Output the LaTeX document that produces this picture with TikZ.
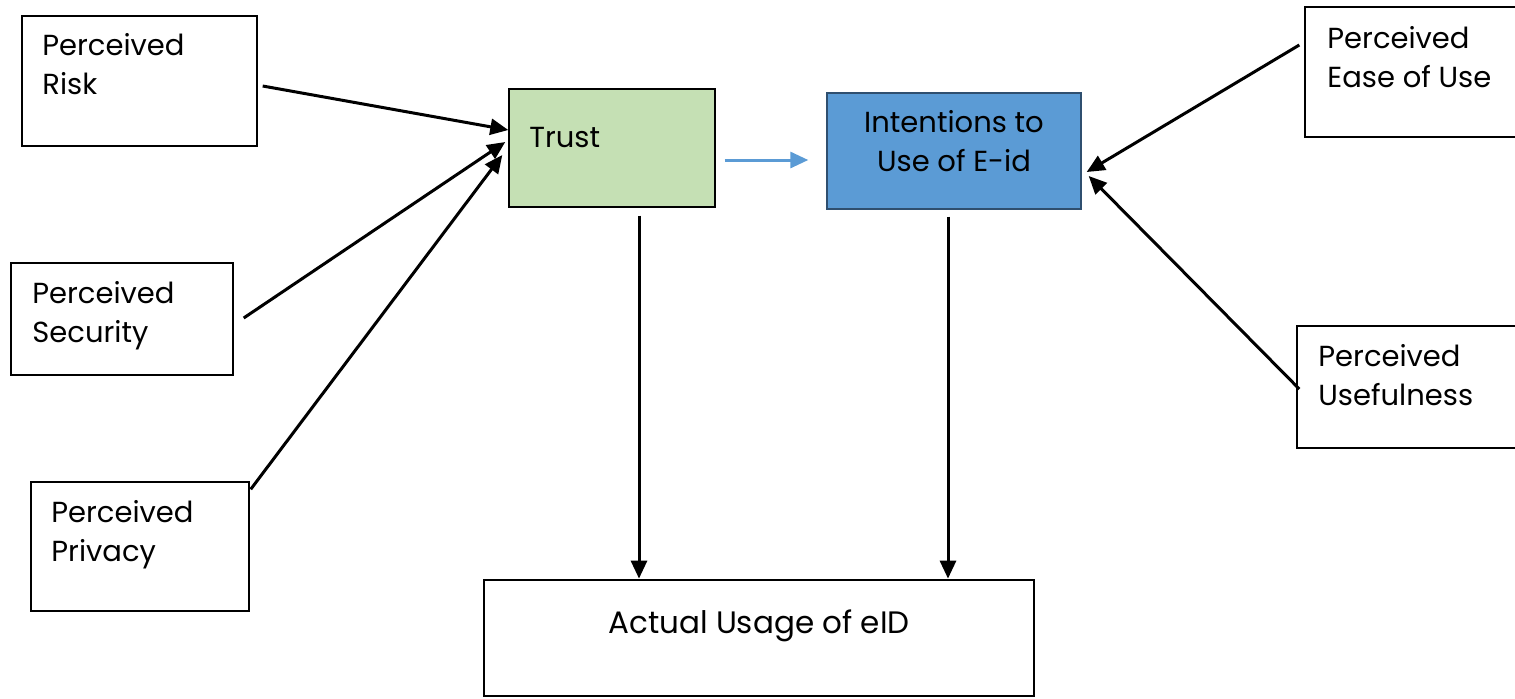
\documentclass[tikz,border=0pt]{standalone}
\usepackage{fontspec}
\setmainfont{Poppins}
\usetikzlibrary{arrows.meta,calc}
\definecolor{trustgreen}{HTML}{C5E0B4}
\definecolor{intentblue}{HTML}{5B9BD5}
\definecolor{intentedge}{HTML}{2F4F6F}
\begin{document}
\begin{tikzpicture}[x=0.5pt,y=-0.5pt,
  box/.style={draw, line width=0.7pt, inner sep=0pt},
  label/.style={inner sep=0pt, font=\fontsize{14.5}{19.5}\selectfont},
  arr/.style={line width=1.5pt, -{Triangle[length=9pt,width=8pt]}},
  bluearr/.style={line width=1.5pt, draw=intentblue, -{Triangle[length=9pt,width=8pt]}}]
\useasboundingbox (0,0) rectangle (1515,698);

% factor boxes
\node[box, minimum width=117.5pt, minimum height=65pt] (risk) at (139.5,81) {};
\node[box, minimum width=111pt, minimum height=56pt] (sec) at (122,319) {};
\node[box, minimum width=109pt, minimum height=64.5pt] (priv) at (140,546.5) {};
\node[box, minimum width=106pt, minimum height=65pt] (ease) at (1411,72) {};
\node[box, minimum width=110pt, minimum height=61pt] (useful) at (1407,387) {};

% central constructs
\node[box, fill=trustgreen, minimum width=103pt, minimum height=59pt] (trust) at (612,148) {};
\node[box, fill=intentblue, draw=intentedge, minimum width=127pt, minimum height=58pt] (intent) at (954,151) {};
\node[box, line width=1.4pt, minimum width=275pt, minimum height=58pt] (actual) at (759,638) {};

% texts
\node[label, anchor=north west, align=left] (riskt) at (42,33) {Perceived\\Risk};
\node[label, anchor=north west, align=left] (sect) at (32,281) {Perceived\\Security};
\node[label, anchor=north west, align=left] (privt) at (51,500) {Perceived\\Privacy};
\node[label, anchor=north west, align=left] (easet) at (1327,26) {Perceived\\Ease of Use};
\node[label, anchor=north west, align=left] (usefult) at (1318,344) {Perceived\\Usefulness};
\node[label, anchor=north west] (trustt) at (529,127) {Trust};
\node[label, anchor=north, align=center] (intentt) at (954,110) {Intentions to\\Use of E-id};
\node[label, anchor=north, font=\fontsize{15.5}{19.5}\selectfont] (actualt) at (759,609) {Actual Usage of eID};

% connectors
\draw[arr] ($(risk.east)+(5,5)$) -- ($(trust.west)+(0,-18)$);
\draw[arr] ($(sec.east)+(10,-1)$) -- ($(trust.west)+(-3,-6)$);
\draw[arr] ($(priv.north east)+(1,8)$) -- ($(trust.west)+(-6,7)$);
\draw[bluearr] ($(trust.east)+(9,12)$) -- ($(intent.west)+(-18,9)$);
\draw[arr] ($(ease.west)+(-5,-27)$) -- ($(intent.east)+(5,21)$);
\draw[arr] ($(useful.west)+(3,2)$) -- ($(intent.east)+(7,25)$);
\draw[arr] ($(trust.south)+(27,8)$) -- ($(actual.north)+(-120,0)$);
\draw[arr] ($(intent.south)+(-6,7)$) -- ($(actual.north)+(189,0)$);
\end{tikzpicture}
\end{document}
